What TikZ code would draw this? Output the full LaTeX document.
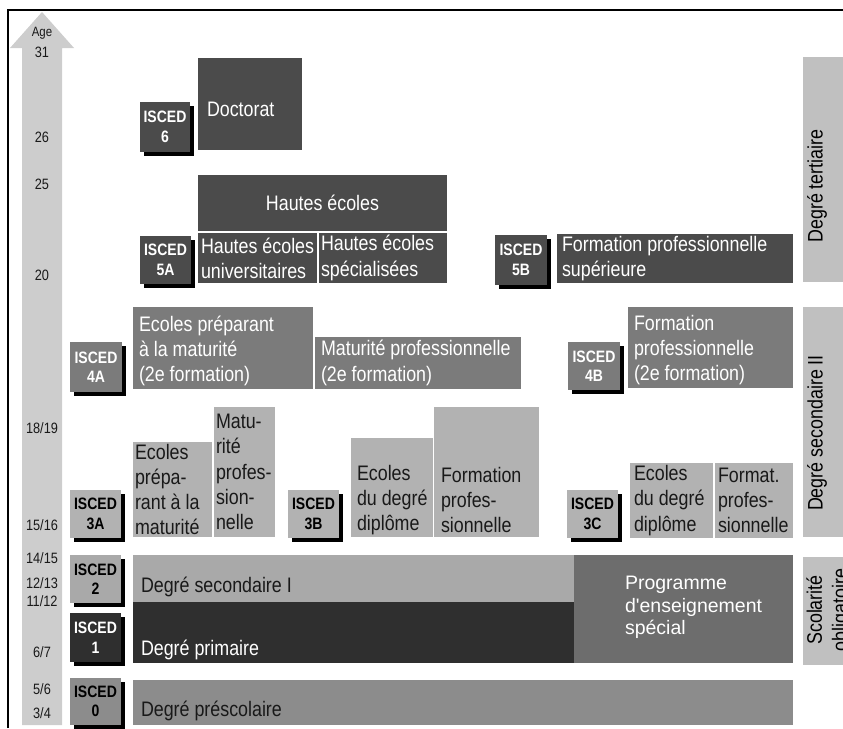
\documentclass[tikz,border=0pt]{standalone}
\usepackage{fontspec}
\setmainfont{Liberation Sans}[FakeStretch=0.85]
\newfontfamily\arialfont{Liberation Sans}
\usepackage{tikz}
\usetikzlibrary{positioning, shadows}
\definecolor{gristert}{HTML}{4B4B4B}
\definecolor{grisprim}{HTML}{2F2F2F}
\definecolor{grismoyen}{HTML}{7B7B7B}
\definecolor{grisspec}{HTML}{6D6D6D}
\definecolor{grisprescol}{HTML}{8C8C8C}
\definecolor{grisclair}{HTML}{B2B2B2}
\definecolor{grissecI}{HTML}{A9A9A9}
\definecolor{grisage}{HTML}{CDCDCD}
\definecolor{grisdegre}{HTML}{C0C0C0}
\newcommand{\txtfont}{\fontsize{21}{25.25}\selectfont}
\newcommand{\iscfont}{\bfseries\fontsize{16.5}{19.5}\selectfont}
\newcommand{\agefont}{\fontsize{15}{18}\selectfont}
\newcommand{\specfont}{\arialfont\fontsize{19.5}{22.5}\selectfont}

\begin{document}
\begin{tikzpicture}[
  x=1pt, y=-1pt,
  every node/.style={inner sep=0pt, outer sep=0pt},
  cell/.style 2 args={anchor=north west, minimum width=#1pt, minimum height=#2pt},
  isced/.style={align=center, font=\iscfont,
    drop shadow={shadow xshift=3.5pt, shadow yshift=-4pt, fill=black, opacity=1}},
  tert/.style={fill=gristert},
  moy/.style={fill=grismoyen},
  clair/.style={fill=grisclair},
  secI/.style={fill=grissecI},
  prim/.style={fill=grisprim},
  spec/.style={fill=grisspec},
  presc/.style={fill=grisprescol},
  degre/.style={fill=grisdegre},
  txtw/.style={align=left, font=\txtfont, text=white},
  txtb/.style={align=left, font=\txtfont, text=black!90},
  agelbl/.style={font=\agefont, text=black!90}
]
  \useasboundingbox (0,0) rectangle (843,728);
  % cadre
  \draw[line width=2pt] (8,728) -- (8,10) -- (843,10);
  % fleche des ages
  \fill[grisage] (22,725) -- (22,48) -- (10,48) -- (42,12) -- (74,48)
    -- (62,48) -- (62,725) -- cycle;
  \node[agelbl, font=\fontsize{13.5}{16}\selectfont] (age) at (42,33) {Age};
  \foreach \y/\a [count=\i] in {52/31, 137/26, 184/25, 275/20, 428/{18/19},
      525/{15/16}, 558/{14/15}, 583/{12/13}, 601/{11/12}, 652/{6/7},
      689/{5/6}, 713/{3/4}}
    \node[agelbl] (age\i) at (42,\y) {\a};

  % degre tertiaire
  \node[cell={50}{50}, tert, isced, text=white] (isc6) at (140,102) {ISCED\\6};
  \node[cell={104}{92}, tert] (doct) at (198,58) {};
  \node[txtw, right=9pt of doct.west, yshift=-5pt] (doct-t) {Doctorat};
  \node[cell={249}{56}, tert, font=\txtfont, text=white] (haut) at (198,175) {Hautes écoles};
  \node[cell={51}{48}, tert, isced, text=white] (isc5a) at (140,236) {ISCED\\5A};
  \node[cell={119}{50}, tert] (hesu) at (198,233) {};
  \node[txtw, right=3pt of hesu.west] (hesu-t) {Hautes écoles\\universitaires};
  \node[cell={128}{50}, tert] (hess) at (319,233) {};
  \node[txtw, right=2pt of hess.west] (hess-t) {Hautes écoles\\spécialisées};
  \node[cell={52}{50}, tert, isced, text=white] (isc5b) at (495,235) {ISCED\\5B};
  \node[cell={236}{49}, tert] (fps) at (557,234) {};
  \node[txtw, right=5pt of fps.west] (fps-t) {Formation professionnelle\\supérieure};

  % degre secondaire II, 2e formation
  \node[cell={52}{50}, moy, isced, text=white] (isc4a) at (70,342) {ISCED\\4A};
  \node[cell={180}{82}, moy] (epm2) at (133,307) {};
  \node[txtw, right=6pt of epm2.west, yshift=-3pt] (epm2-t) {Ecoles préparant\\à la maturité\\(2e formation)};
  \node[cell={206}{52}, moy] (mp2) at (315,337) {};
  \node[txtw, right=6pt of mp2.west] (mp2-t) {Maturité professionnelle\\(2e formation)};
  \node[cell={52}{48}, moy, isced, text=white] (isc4b) at (568,342) {ISCED\\4B};
  \node[cell={165}{81}, moy] (fp2) at (628,307) {};
  \node[txtw, right=6pt of fp2.west, yshift=-2.5pt] (fp2-t) {Formation\\professionnelle\\(2e formation)};

  % degre secondaire II
  \node[cell={51}{48}, clair, isced] (isc3a) at (70,490) {ISCED\\3A};
  \node[cell={79}{95}, clair] (epm) at (133,442) {};
  \node[txtb, right=2pt of epm.west] (epm-t) {Ecoles\\prépa-\\rant à la\\maturité};
  \node[cell={61}{130}, clair] (mpp) at (214,407) {};
  \node[txtb, right=2pt of mpp.west] (mpp-t) {Matu-\\rité\\profes-\\sion-\\nelle};
  \node[cell={51}{48}, clair, isced] (isc3b) at (288,490) {ISCED\\3B};
  \node[cell={82}{99}, clair] (edd) at (351,438) {};
  \node[txtb, right=6pt of edd.west, yshift=-12.5pt] (edd-t) {Ecoles\\du degré\\diplôme};
  \node[cell={105}{130}, clair] (fpp) at (434,407) {};
  \node[txtb, right=7pt of fpp.west, yshift=-28pt] (fpp-t) {Formation\\profes-\\sionnelle};
  \node[cell={51}{48}, clair, isced] (isc3c) at (567,490) {ISCED\\3C};
  \node[cell={83}{75}, clair] (eddc) at (630,463) {};
  \node[txtb, right=4pt of eddc.west] (eddc-t) {Ecoles\\du degré\\diplôme};
  \node[cell={78}{75}, clair] (fpc) at (715,463) {};
  \node[txtb, right=3pt of fpc.west] (fpc-t) {Format.\\profes-\\sionnelle};

  % scolarite obligatoire
  \node[cell={51}{48}, secI, isced] (isc2) at (70,555) {ISCED\\2};
  \node[cell={441}{47}, secI] (sec1) at (133,555) {};
  \node[txtb, right=8pt of sec1.west, yshift=-8pt] (sec1-t) {Degré secondaire I};
  \node[cell={51}{49}, prim, isced, text=white] (isc1) at (70,613) {ISCED\\1};
  \node[cell={441}{61}, prim] (dprim) at (133,602) {};
  \node[txtw, right=8pt of dprim.west, yshift=-17pt] (dprim-t) {Degré primaire};
  \node[cell={219}{108}, spec] (dspec) at (574,555) {};
  \node[align=left, font=\specfont, text=white, right=51pt of dspec.west, yshift=1.5pt] (dspec-t)
    {Programme\\d'enseignement\\spécial};

  % prescolaire
  \node[cell={51}{47}, presc, isced] (isc0) at (70,678) {ISCED\\0};
  \node[cell={660}{45}, presc] (dpresc) at (133,680) {};
  \node[txtb, right=8pt of dpresc.west, yshift=-8pt] (dpresc-t) {Degré préscolaire};

  % degres
  \node[cell={50}{225}, degre] (ltert) at (803,57) {};
  \node[rotate=90, font=\txtfont] (ltert-t) at (817,186) {Degré tertiaire};
  \node[cell={50}{230}, degre] (lsec2) at (803,307) {};
  \node[rotate=90, font=\txtfont] (lsec2-t) at (817,433) {Degré secondaire II};
  \node[cell={50}{108}, degre] (lscol) at (803,557) {};
  \node[rotate=90, align=center, font=\txtfont] (lscol-t) at (829,610) {Scolarité\\obligatoire};
\end{tikzpicture}
\end{document}
